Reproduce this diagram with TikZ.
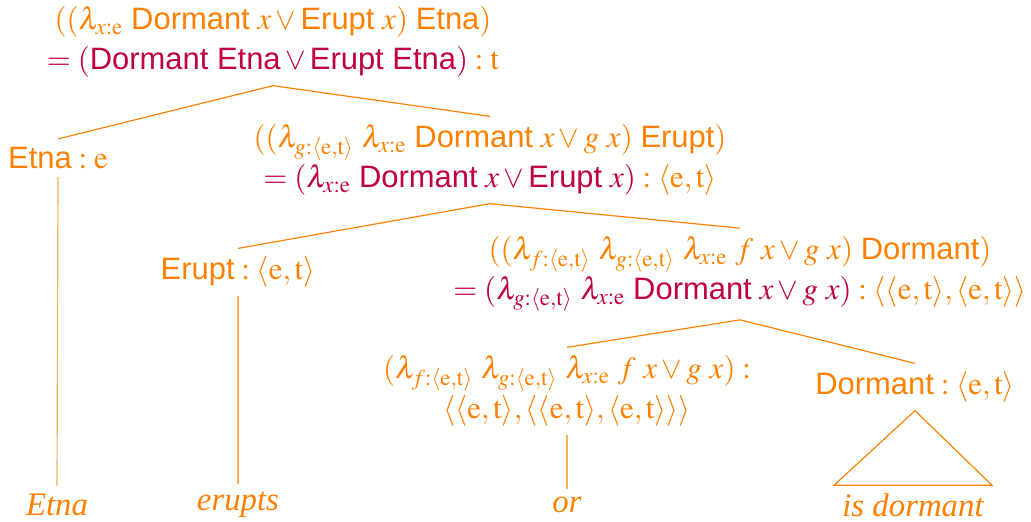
\documentclass[tikz,border=0pt]{standalone}
\usepackage{amsmath}
\usepackage{mathptmx}
\usepackage{fontspec}
\setmainfont{Liberation Serif}
\setsansfont{Liberation Sans}
\usepackage{xcolor}
\usetikzlibrary{positioning,calc}
\definecolor{tyorange}{RGB}{255,128,0}
\definecolor{redcrim}{RGB}{192,0,64}
\newcommand{\cn}[1]{\textsf{#1}}
\newcommand{\ty}[1]{\mathrm{#1}}
\newcommand{\et}{\langle\ty{e},\ty{t}\rangle}

\begin{document}
\begin{tikzpicture}[
  x=0.15mm, y=-0.15mm,
  font=\fontsize{13.2}{17}\selectfont,
  tn/.style={align=center, text=tyorange},
  lf/.style={text=tyorange, font=\fontsize{14}{16}\selectfont\itshape},
  br/.style={draw=tyorange, line width=0.5pt},
  stem/.style={draw=tyorange!65, line width=0.5pt}
]
\useasboundingbox (0,0) rectangle (1031,521);

\node[tn] (root) at (273,42)
  {$((\lambda_{x:\ty{e}}\ \cn{Dormant}\ x\vee\cn{Erupt}\ x)\ \cn{Etna})$\\
   $\textcolor{redcrim}{=(\cn{Dormant Etna}\vee\cn{Erupt Etna})}:\ty{t}$};
\node[tn] (etna) at (58,158) {$\cn{Etna}:\ty{e}$};
\node[tn] (n2) at (490,160)
  {$((\lambda_{g:\et}\ \lambda_{x:\ty{e}}\ \cn{Dormant}\ x\vee g\ x)\ \cn{Erupt})$\\
   $\textcolor{redcrim}{=(\lambda_{x:\ty{e}}\ \cn{Dormant}\ x\vee\cn{Erupt}\ x)}:\et$};
\node[tn] (erupt) at (238,272) {$\cn{Erupt}:\et$};
\node[tn] (n3) at (740,274)
  {$((\lambda_{f:\et}\ \lambda_{g:\et}\ \lambda_{x:\ty{e}}\ f\ x\vee g\ x)\ \cn{Dormant})$\\
   $\textcolor{redcrim}{=(\lambda_{g:\et}\ \lambda_{x:\ty{e}}\ \cn{Dormant}\ x\vee g\ x)}:\langle\et,\et\rangle$};
\node[tn] (n4) at (567,391)
  {$(\lambda_{f:\et}\ \lambda_{g:\et}\ \lambda_{x:\ty{e}}\ f\ x\vee g\ x):$\\
   $\langle\et,\langle\et,\et\rangle\rangle$};
\node[tn] (dorm) at (915,387) {$\cn{Dormant}:\et$};

\node[lf] (w1) at (57,505) {Etna};
\node[lf] (w2) at (238,505) {erupts};
\node[lf] (w3) at (567,505) {or};
\node[lf] (w4) at (913,505) {is dormant};

\draw[br] (etna.north) -- (root.south) -- (n2.north);
\draw[br] (erupt.north) -- (n2.south) -- (n3.north);
\draw[br] (n4.north) -- (n3.south) -- (dorm.north);
\draw[stem] (etna.south) -- (w1.north);
\draw[stem] (erupt.south) -- (w2.north);
\draw[stem] (n4.south) -- (w3.north);
\draw[br] (dorm.south) -- (w4.north east) -- (w4.north west) -- cycle;
\end{tikzpicture}
\end{document}
